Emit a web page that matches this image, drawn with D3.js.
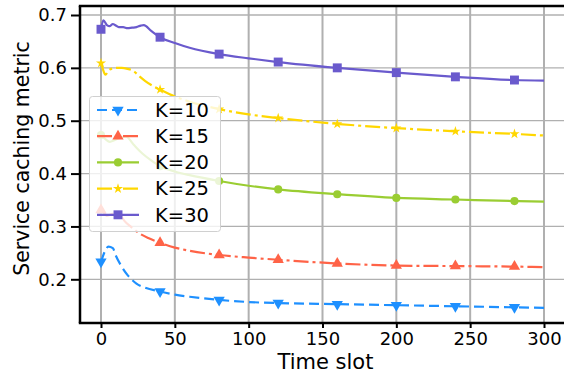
<!DOCTYPE html>
<html>
<head>
<meta charset="utf-8">
<script src="https://cdn.jsdelivr.net/npm/d3@7"></script>
<style>
  body { margin: 0; background: #fff; }
  text { font-family: "DejaVu Sans", sans-serif; fill: #000; }
</style>
</head>
<body>
<svg id="chart" width="564" height="376"></svg>
<script>
// data
const labels = ['K=10', 'K=15', 'K=20', 'K=25', 'K=30'];

const tK10 = [0, 3, 5, 8, 10, 14, 18, 24, 30, 40, 50, 60, 80, 100, 120, 160, 200, 240, 280, 300];
const vK10 = [0.233, 0.255, 0.262, 0.259, 0.245, 0.224, 0.208, 0.192, 0.184, 0.177, 0.171, 0.167, 0.161, 0.157, 0.155, 0.153, 0.151, 0.149, 0.147, 0.146];

const tK15 = [0, 2, 4, 7, 10, 13, 16, 20, 26, 32, 40, 50, 60, 80, 100, 120, 160, 200, 240, 280, 300];
const vK15 = [0.331, 0.326, 0.320, 0.323, 0.327, 0.322, 0.310, 0.300, 0.287, 0.278, 0.269, 0.260, 0.254, 0.246, 0.241, 0.237, 0.230, 0.226, 0.225, 0.224, 0.223];

const tK20 = [0, 3, 6, 9, 13, 17, 22, 28, 34, 40, 50, 60, 80, 100, 120, 160, 200, 240, 280, 300];
const vK20 = [0.473, 0.465, 0.460, 0.463, 0.468, 0.470, 0.455, 0.438, 0.425, 0.414, 0.404, 0.397, 0.386, 0.377, 0.370, 0.361, 0.354, 0.351, 0.348, 0.347];

const tK25 = [0, 1, 3, 5, 8, 11, 14, 18, 22, 26, 30, 35, 40, 50, 60, 80, 100, 120, 160, 200, 240, 280, 300];
const vK25 = [0.609, 0.600, 0.587, 0.595, 0.599, 0.600, 0.600, 0.598, 0.594, 0.584, 0.575, 0.566, 0.559, 0.546, 0.536, 0.522, 0.512, 0.505, 0.494, 0.486, 0.480, 0.475, 0.472];

const tK30 = [0, 1.6, 4, 6, 8, 10, 12, 15, 18, 21, 24, 27, 29, 34, 40, 50, 60, 80, 100, 120, 160, 200, 240, 280, 300];
const vK30 = [0.673, 0.690, 0.681, 0.679, 0.683, 0.680, 0.677, 0.677, 0.675, 0.676, 0.677, 0.680, 0.681, 0.670, 0.658, 0.647, 0.638, 0.626, 0.618, 0.611, 0.600, 0.591, 0.583, 0.577, 0.576];

const xTicks = [0, 50, 100, 150, 200, 250, 300];
const yTicks = [0.2, 0.3, 0.4, 0.5, 0.6, 0.7];
const markEvery = 40;

const series = [
    {name: labels[0], t: tK10, v: vK10, color: '#1e90ff', dash: '10,5', symbol: 'tridown'},
    {name: labels[1], t: tK15, v: vK15, color: '#ff6347', dash: '15,4,3,4', symbol: 'triup'},
    {name: labels[2], t: tK20, v: vK20, color: '#9acd32', dash: null, symbol: 'circle'},
    {name: labels[3], t: tK25, v: vK25, color: '#ffd700', dash: '15,4,3,4', symbol: 'star'},
    {name: labels[4], t: tK30, v: vK30, color: '#6a5acd', dash: null, symbol: 'square'}
];

const svg = d3.select('#chart');
const plotL = 80, plotT = 6, plotB = 323, plotR = 570;

const x = d3.scaleLinear().domain([0, 300]).range([101, 544]);
const y = d3.scaleLinear().domain([0.2, 0.7]).range([279.3, 15]);

// grid
svg.append('g').selectAll('line').data(yTicks).join('line')
    .attr('x1', plotL).attr('x2', plotR)
    .attr('y1', d => y(d)).attr('y2', d => y(d))
    .attr('stroke', '#b0b0b0').attr('stroke-width', 1.3);
svg.append('g').selectAll('line').data(xTicks).join('line')
    .attr('x1', d => x(d)).attr('x2', d => x(d))
    .attr('y1', plotT).attr('y2', plotB)
    .attr('stroke', '#b0b0b0').attr('stroke-width', 2);

function symbolPath(kind) {
    if (kind === 'tridown') return d3.symbol(d3.symbolTriangle, 55)();
    if (kind === 'triup') return d3.symbol(d3.symbolTriangle, 55)();
    if (kind === 'circle') return d3.symbol(d3.symbolCircle, 52)();
    if (kind === 'star') return d3.symbol(d3.symbolStar, 32)();
    return d3.symbol(d3.symbolSquare, 80)();
}
function symbolRotate(kind) {
    return kind === 'tridown' ? ' rotate(180)' : '';
}

const line = d3.line().x(d => x(d[0])).y(d => y(d[1])).curve(d3.curveMonotoneX);

// lines + markers
series.forEach(s => {
    let pts = s.t.map((t, i) => [t, s.v[i]]);
    let g = svg.append('g');
    g.append('path')
        .attr('d', line(pts))
        .attr('fill', 'none')
        .attr('stroke', s.color)
        .attr('stroke-width', 2.2)
        .attr('stroke-dasharray', s.dash);
    g.selectAll('path.m').data(pts.filter(p => p[0] % markEvery === 0 && p[0] < 300)).join('path')
        .attr('class', 'm')
        .attr('d', symbolPath(s.symbol))
        .attr('transform', p => `translate(${x(p[0])},${y(p[1])})` + symbolRotate(s.symbol))
        .attr('fill', s.color);
});

// spines
svg.append('line').attr('x1', plotL).attr('x2', plotL).attr('y1', plotT).attr('y2', plotB)
    .attr('stroke', '#000').attr('stroke-width', 2.5);
svg.append('line').attr('x1', plotL - 1.2).attr('x2', plotR).attr('y1', plotB).attr('y2', plotB)
    .attr('stroke', '#000').attr('stroke-width', 2.5);
svg.append('line').attr('x1', plotL - 1.2).attr('x2', plotR).attr('y1', plotT).attr('y2', plotT)
    .attr('stroke', '#000').attr('stroke-width', 2.5);

// ticks
const yAxis = svg.append('g').attr('transform', `translate(${plotL},0)`)
    .call(d3.axisLeft(y).tickValues(yTicks).tickFormat(d3.format('.1f')).tickSize(9).tickPadding(4));
const xAxis = svg.append('g').attr('transform', `translate(0,${plotB})`)
    .call(d3.axisBottom(x).tickValues(xTicks).tickFormat(d3.format('d')).tickSize(5).tickPadding(4));
[xAxis, yAxis].forEach(a => {
    a.select('.domain').remove();
    a.selectAll('line').attr('stroke', '#000').attr('stroke-width', 2);
    a.selectAll('text').attr('font-size', 18).attr('font-family', 'DejaVu Sans').attr('fill', '#000');
});

// axis labels
svg.append('text').attr('x', 325.5).attr('y', 369).attr('text-anchor', 'middle')
    .attr('font-family', 'Liberation Sans').attr('font-size', 21).text('Time slot');
svg.append('text').attr('transform', 'translate(29,158.5) rotate(-90)').attr('text-anchor', 'middle')
    .attr('font-family', 'Liberation Sans').attr('font-size', 20.5).text('Service caching metric');

// legend
const lg = svg.append('g');
lg.append('rect').attr('x', 89.5).attr('y', 96.5).attr('width', 131).attr('height', 135).attr('rx', 3)
    .attr('fill', '#fff').attr('fill-opacity', 0.8).attr('stroke', '#d0d0d0').attr('stroke-width', 1);
series.forEach((s, i) => {
    let ly = 110 + i * 26.2;
    let row = lg.append('g').attr('transform', `translate(0,${ly})`);
    row.append('line').attr('x1', 97).attr('x2', 139).attr('y1', 0).attr('y2', 0)
        .attr('stroke', s.color).attr('stroke-width', 2.2).attr('stroke-dasharray', s.dash);
    row.append('path').attr('d', symbolPath(s.symbol))
        .attr('transform', 'translate(118,0)' + symbolRotate(s.symbol))
        .attr('fill', s.color);
    row.append('text').attr('x', 155).attr('y', 6.7).attr('font-size', 19.5).text(s.name);
});
</script>
</body>
</html>
